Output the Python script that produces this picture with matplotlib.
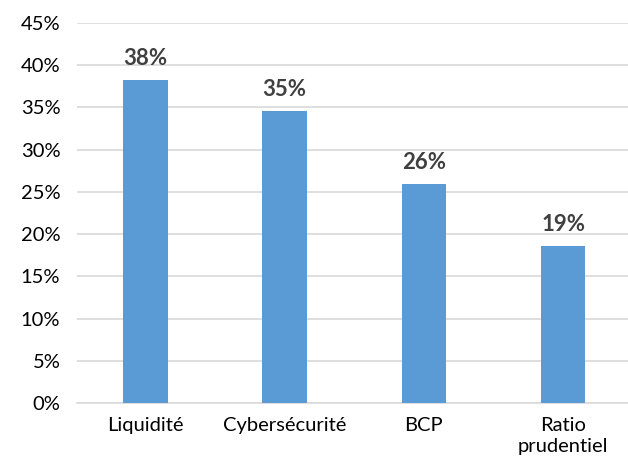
import matplotlib.pyplot as plt
from matplotlib.ticker import PercentFormatter

# categories and their shares
categories = ["Liquidité", "Cybersécurité", "BCP", "Ratio\nprudentiel"]
shares = [0.383, 0.346, 0.259, 0.186]
yticks = [0, 0.05, 0.10, 0.15, 0.20, 0.25, 0.30, 0.35, 0.40, 0.45]

plt.rcParams['font.family'] = ['Lato', 'DejaVu Sans']

fig = plt.figure(figsize=(6.28, 4.58), dpi=100)
ax = fig.add_axes([77 / 628, 55 / 458, 560 / 628, 380 / 458])

x = range(len(categories))
ax.bar(x, shares, width=0.32, color="#5B9BD5", zorder=3)

# value labels on top of each bar
for xi, v in zip(x, shares):
    ax.text(xi, v + 0.013, f"{v * 100:.0f}%", ha="center", va="bottom",
            fontsize=16, fontweight="bold", color="#404040")

ax.set_ylim(0, 0.45)
ax.set_xlim(-0.49, 3.53)
ax.set_yticks(yticks)
ax.yaxis.set_major_formatter(PercentFormatter(1.0, decimals=0))
ax.set_xticks(list(x))
ax.set_xticklabels(categories, linespacing=1.3)

ax.grid(axis="y", color="#D9D9D9", linewidth=1.2, zorder=0)
for side in ["top", "right", "left"]:
    ax.spines[side].set_visible(False)
ax.spines["bottom"].set_color("#D9D9D9")
ax.spines["bottom"].set_linewidth(1.2)
ax.tick_params(axis="both", length=0, labelsize=14.5, colors="#000000")
ax.tick_params(axis="y", pad=12)
ax.tick_params(axis="x", pad=10)

fig.savefig("out.png", dpi=100)
